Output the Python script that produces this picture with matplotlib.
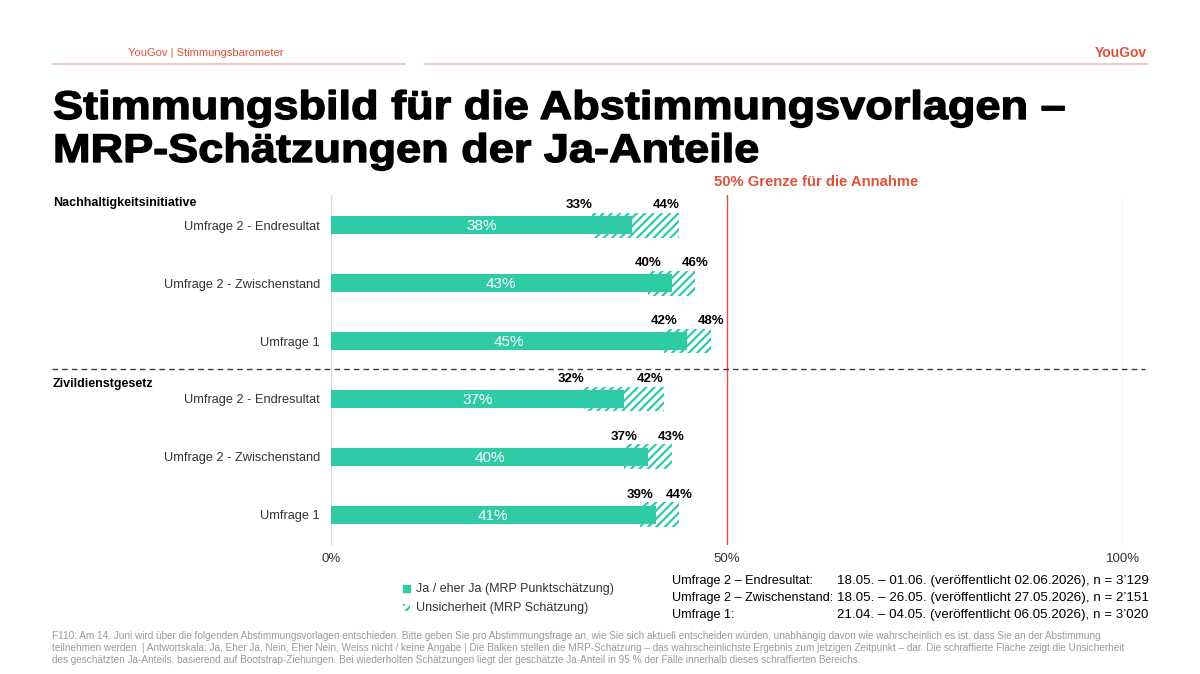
import matplotlib.pyplot as plt
from matplotlib.patches import Rectangle, PathPatch
from matplotlib.lines import Line2D
from matplotlib.textpath import TextPath
from matplotlib.font_manager import FontProperties
from matplotlib.transforms import Affine2D

plt.rcParams['font.family'] = ['Liberation Sans', 'DejaVu Sans']
plt.rcParams['hatch.linewidth'] = 1.6

# data
rows = ["Umfrage 2 - Endresultat", "Umfrage 2 - Zwischenstand", "Umfrage 1",
        "Umfrage 2 - Endresultat", "Umfrage 2 - Zwischenstand", "Umfrage 1"]
groups = ["Nachhaltigkeitsinitiative", "Zivildienstgesetz"]
point = [38, 43, 45, 37, 40, 41]
lower = [33, 40, 42, 32, 37, 39]
upper = [44, 46, 48, 42, 43, 44]
xticks = [0, 50, 100]
threshold = 50

teal = "#2ECBA6"
red = "#E0503A"
dark = "#333333"

fig = plt.figure(figsize=(12, 6.74), dpi=100)
ax = fig.add_axes([331/1200, 1 - 545/674, 792/1200, 350/674])

ys = list(range(len(rows)))
# uncertainty (hatched) behind the point estimate
ax.barh(ys, [u - l for u, l in zip(upper, lower)], left=lower, height=0.43,
        facecolor="white", edgecolor=teal, linewidth=0, hatch="////", zorder=2)
ax.barh(ys, point, height=0.31, color=teal, zorder=3)

for y, p, l, u in zip(ys, point, lower, upper):
    ax.text(p / 2, y + 0.02, f"{p}%", ha="center", va="center", color="white",
            fontsize=11, zorder=4)
    ha = "right" if u - l >= 9 else "center"
    ax.text(l, y - 0.24, f"{l}%", ha=ha, va="bottom", fontsize=9.5,
            fontweight="bold", color="black")
    ax.text(u, y - 0.24, f"{u}%", ha=ha, va="bottom", fontsize=9.5,
            fontweight="bold", color="black")

ax.axvline(0, color="#d9d9d9", lw=1, zorder=1)
ax.axvline(100, color="#d9d9d9", lw=1, zorder=1)
ax.axvline(threshold, color=red, lw=1, zorder=1)

ax.set_xlim(0, 100)
ax.set_ylim(len(rows) - 0.48, -0.52)
ax.set_yticks(ys)
ax.set_yticklabels(rows, fontsize=9.2, color=dark)
ax.set_xticks(xticks)
ax.set_xticklabels([f"{t}%" for t in xticks], fontsize=9.5, color=dark)
ax.tick_params(axis="x", length=0, pad=6)
ax.tick_params(axis="y", length=0, pad=8)
for s in ax.spines.values():
    s.set_visible(False)

# header
fig.text(128/1200, 1 - 53/674, "YouGov | Stimmungsbarometer", fontsize=8,
         color=red, va="center")
fig.text(1147/1200, 1 - 53/674, "YouGov", fontsize=10, fontweight="bold",
         color=red, va="center", ha="right")
fig.add_artist(Line2D([53/1200, 405/1200], [1 - 64/674] * 2, color="#EBCBC4", lw=1.5))
fig.add_artist(Line2D([425/1200, 1147/1200], [1 - 64/674] * 2, color="#EBCBC4", lw=1.5))

# title: heavy, slightly wide lettering drawn as paths
title_lines = ["Stimmungsbild für die Abstimmungsvorlagen –", "MRP-Schätzungen der Ja-Anteile"]
title_prop = FontProperties(family="Liberation Sans", weight="bold")
paths = [TextPath((0, 0), t, size=40, prop=title_prop) for t in title_lines]
sx = 1010 / paths[0].get_extents().width
for tp, base in zip(paths, [119, 162]):
    tr = Affine2D().scale(sx, 1).translate(53, 674 - base).scale(1/1200, 1/674) + fig.transFigure
    fig.add_artist(PathPatch(tp, facecolor="black", edgecolor="black", lw=1.0,
                             transform=tr))

fig.text(714/1200, 1 - 182/674, "50% Grenze für die Annahme", fontsize=10.7,
         fontweight="bold", color=red, va="center")

# group labels and separator
fig.text(53/1200, 1 - 203/674, groups[0], fontsize=9, fontweight="bold", va="center")
fig.text(53/1200, 1 - 384/674, groups[1], fontsize=9, fontweight="bold", va="center")
fig.add_artist(Line2D([52/1200, 1145/1200], [1 - 369/674] * 2, color="#3a3a55",
                      lw=1, ls=(0, (4, 3))))

# legend
fig.add_artist(Rectangle((403/1200, 1 - 592/674), 7/1200, 7/674, color=teal,
                         transform=fig.transFigure))
fig.add_artist(Rectangle((403/1200, 1 - 611/674), 7/1200, 7/674, facecolor="white",
                         edgecolor=teal, lw=0, hatch="////", transform=fig.transFigure))
fig.text(416/1200, 1 - 589/674, "Ja / eher Ja (MRP Punktschätzung)", fontsize=9,
         color=dark, va="center")
fig.text(416/1200, 1 - 608/674, "Unsicherheit (MRP Schätzung)", fontsize=9,
         color=dark, va="center")

# survey info
info_labels = ["Umfrage 2 – Endresultat:", "Umfrage 2 – Zwischenstand:", "Umfrage 1:"]
info_dates = ["18.05. – 01.06. (veröffentlicht 02.06.2026), n = 3’129",
              "18.05. – 26.05. (veröffentlicht 27.05.2026), n = 2’151",
              "21.04. – 04.05. (veröffentlicht 06.05.2026), n = 3’020"]
for i, (lab, d) in enumerate(zip(info_labels, info_dates)):
    yy = 1 - (581 + 17 * i) / 674
    fig.text(672/1200, yy, lab, fontsize=9.1, color="black", va="center")
    fig.text(837/1200, yy, d, fontsize=9.6, color="black", va="center")

# footnote
foot = ("F110: Am 14. Juni wird über die folgenden Abstimmungsvorlagen entschieden. Bitte geben Sie pro "
        "Abstimmungsfrage an, wie Sie sich aktuell entscheiden würden, unabhängig davon wie wahrscheinlich es ist, "
        "dass Sie an der Abstimmung\n"
        "teilnehmen werden. | Antwortskala: Ja, Eher Ja, Nein, Eher Nein, Weiss nicht / keine Angabe | Die Balken "
        "stellen die MRP-Schätzung – das wahrscheinlichste Ergebnis zum jetzigen Zeitpunkt – dar. Die schraffierte "
        "Fläche zeigt die Unsicherheit\n"
        "des geschätzten Ja-Anteils, basierend auf Bootstrap-Ziehungen. Bei wiederholten Schätzungen liegt der "
        "geschätzte Ja-Anteil in 95 % der Fälle innerhalb dieses schraffierten Bereichs.")
fig.text(52/1200, 1 - 631/674, foot, fontsize=7.2, color="#9a9a9a", va="top",
         linespacing=1.25)

fig.savefig("out.png", dpi=100)
